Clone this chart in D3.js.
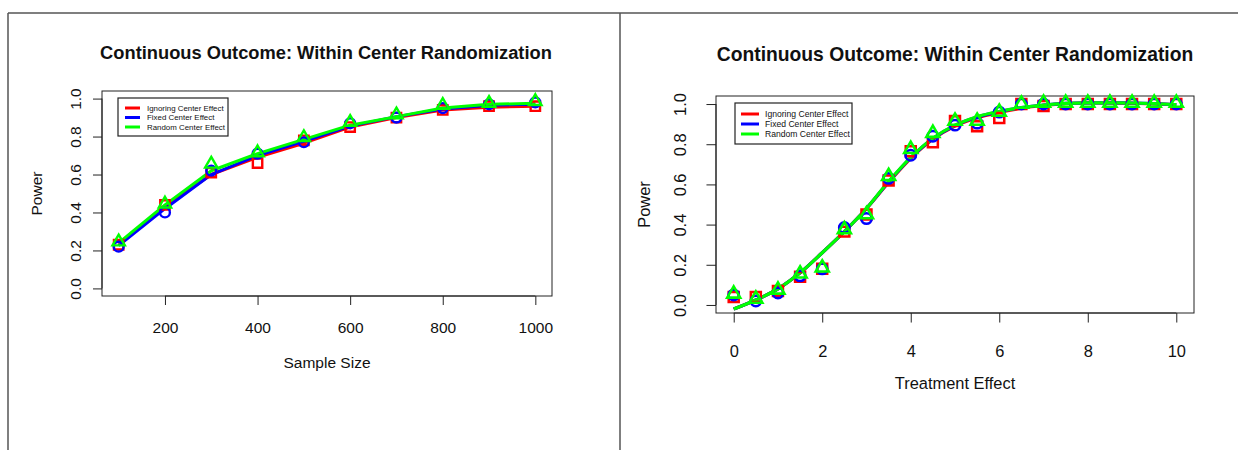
<!DOCTYPE html>
<meta charset='utf-8'>
<html>
  <style>
    body { margin: 0; background: #fff; }
    text { font-family: "Liberation Sans", Arial, sans-serif; fill: #111; }
    .title { font-weight: bold; }
    .box { fill: none; stroke: #222; stroke-width: 1px; }
    .frame { stroke: #555; stroke-width: 1.5px; }
  </style>
  <head>
    <script src="https://cdn.jsdelivr.net/npm/d3@7/dist/d3.min.js"></script>
  </head>
  <body>
    <div id="chart"></div>
    <script type="text/javascript">
      var seriesNames = ["Ignoring Center Effect", "Fixed Center Effect", "Random Center Effect"],
        seriesColors = ["#ff0000", "#0000ff", "#00ff00"],
        seriesShapes = ["square", "circle", "triangle"],
        powerTicks = [0, 0.2, 0.4, 0.6, 0.8, 1.0];

      // left panel: power against sample size
      var sampleSize = [100, 200, 300, 400, 500, 600, 700, 800, 900, 1000],
        sampleTicks = [200, 400, 600, 800, 1000],
        ssIgnorePts = [0.23, 0.44, 0.61, 0.66, 0.78, 0.85, 0.90, 0.94, 0.96, 0.96],
        ssFixedPts  = [0.22, 0.40, 0.62, 0.71, 0.77, 0.87, 0.90, 0.95, 0.97, 0.98],
        ssRandomPts = [0.24, 0.44, 0.65, 0.71, 0.79, 0.87, 0.91, 0.96, 0.97, 0.98],
        ssIgnoreFit = [0.235, 0.43, 0.60, 0.69, 0.765, 0.85, 0.90, 0.94, 0.955, 0.96],
        ssFixedFit  = [0.225, 0.42, 0.60, 0.70, 0.775, 0.855, 0.905, 0.945, 0.965, 0.97],
        ssRandomFit = [0.24, 0.44, 0.62, 0.71, 0.785, 0.86, 0.905, 0.95, 0.97, 0.975];

      // right panel: power against treatment effect
      var effect = [0, 0.5, 1, 1.5, 2, 2.5, 3, 3.5, 4, 4.5, 5, 5.5, 6, 6.5, 7, 7.5, 8, 8.5, 9, 9.5, 10],
        effectTicks = [0, 2, 4, 6, 8, 10],
        teIgnorePts = [0.04, 0.04, 0.07, 0.14, 0.18, 0.365, 0.45, 0.62, 0.765, 0.81, 0.915, 0.89, 0.93, 1.0, 0.99, 1.0, 1.0, 1.0, 1.0, 1.0, 1.0],
        teFixedPts  = [0.05, 0.02, 0.06, 0.145, 0.18, 0.385, 0.43, 0.63, 0.745, 0.84, 0.895, 0.905, 0.96, 1.0, 1.0, 1.0, 1.0, 1.0, 1.0, 1.0, 1.0],
        teRandomPts = [0.05, 0.025, 0.07, 0.15, 0.18, 0.37, 0.445, 0.635, 0.77, 0.85, 0.91, 0.91, 0.955, 0.995, 1.0, 1.0, 1.0, 1.0, 1.0, 1.0, 1.0],
        teIgnoreFit = [-0.02, 0.025, 0.08, 0.16, 0.26, 0.365, 0.48, 0.61, 0.73, 0.825, 0.89, 0.932, 0.958, 0.979, 0.993, 1.002, 1.005, 1.005, 1.004, 1.001, 0.996],
        teFixedFit  = [-0.02, 0.025, 0.08, 0.16, 0.26, 0.365, 0.48, 0.612, 0.733, 0.828, 0.893, 0.935, 0.962, 0.982, 0.995, 1.003, 1.006, 1.006, 1.005, 1.002, 0.997],
        teRandomFit = [-0.02, 0.025, 0.08, 0.16, 0.26, 0.365, 0.48, 0.615, 0.735, 0.83, 0.895, 0.937, 0.963, 0.982, 0.995, 1.003, 1.006, 1.006, 1.005, 1.002, 0.997];

      var svg = d3.select("#chart").append("svg")
        .attr("width", 1238)
        .attr("height", 450);

      // outer panel frames
      svg.append("line").attr("class", "frame").attr("x1", 8).attr("x2", 1238).attr("y1", 13).attr("y2", 13);
      svg.append("line").attr("class", "frame").attr("x1", 8).attr("x2", 8).attr("y1", 13).attr("y2", 450);
      svg.append("line").attr("class", "frame").attr("x1", 620).attr("x2", 620).attr("y1", 13).attr("y2", 450);

      function drawPanel(p) {
        var x = d3.scaleLinear().domain(p.xDomain).range([p.left, p.right]),
          y = d3.scaleLinear().domain([-0.04, 1.04]).range([p.bottom, p.top]),
          k = p.k;

        var g = svg.append("g");

        g.append("text")
          .attr("class", "title")
          .attr("x", p.titleX).attr("y", p.titleY)
          .attr("text-anchor", "middle")
          .style("font-size", p.titleFont + "px")
          .text("Continuous Outcome: Within Center Randomization");

        g.append("rect").attr("class", "box")
          .attr("x", p.left).attr("y", p.top)
          .attr("width", p.right - p.left).attr("height", p.bottom - p.top);

        var xAxis = g.append("g")
          .attr("transform", "translate(0," + p.bottom + ")")
          .call(d3.axisBottom(x).tickValues(p.xTicks).tickSize(9 * k).tickPadding(0).tickFormat(d3.format("d")));
        xAxis.select(".domain").attr("d", "M" + x(p.xTicks[0]) + ",0H" + x(p.xTicks[p.xTicks.length - 1])).attr("stroke", "#222");
        xAxis.selectAll(".tick line").attr("stroke", "#222");
        xAxis.selectAll("text")
          .attr("y", p.xLabelDy)
          .attr("dy", 0)
          .style("font-size", (15.5 * k) + "px")
          .style("font-family", "Liberation Sans, Arial, sans-serif")
          .attr("fill", "#111");

        var yAxis = g.append("g")
          .attr("transform", "translate(" + p.left + ",0)")
          .call(d3.axisLeft(y).tickValues(powerTicks).tickSize(9 * k).tickFormat(d3.format(".1f")));
        yAxis.select(".domain").attr("d", "M0," + y(0) + "V" + y(1)).attr("stroke", "#222");
        yAxis.selectAll(".tick line").attr("stroke", "#222");
        yAxis.selectAll("text")
          .attr("x", 0).attr("dy", 0)
          .attr("transform", "translate(" + (p.yLabelX - p.left) + ",0) rotate(-90)")
          .attr("text-anchor", "middle")
          .style("font-size", (15.5 * k) + "px")
          .style("font-family", "Liberation Sans, Arial, sans-serif")
          .attr("fill", "#111");

        g.append("text")
          .attr("transform", "translate(" + p.powerX + "," + ((p.top + p.bottom) / 2) + ") rotate(-90)")
          .attr("text-anchor", "middle")
          .style("font-size", (15.5 * k) + "px")
          .text("Power");

        g.append("text")
          .attr("x", (p.left + p.right) / 2)
          .attr("y", p.xTitleY)
          .attr("text-anchor", "middle")
          .style("font-size", (15.5 * k) + "px")
          .text(p.xTitle);

        var line = d3.line()
          .x(function(d) { return x(d[0]); })
          .y(function(d) { return y(d[1]); })
          .curve(p.curve);

        var plot = g.append("g");
        p.fits.forEach(function(fit, i) {
          plot.append("path")
            .datum(p.xs.map(function(v, j) { return [v, fit[j]]; }))
            .attr("d", line)
            .attr("fill", "none")
            .attr("stroke", seriesColors[i])
            .attr("stroke-width", 3 * k)
            .attr("stroke-linejoin", "round");
        });

        p.pts.forEach(function(vals, i) {
          var shape = seriesShapes[i], col = seriesColors[i];
          var sel = plot.selectAll(".pt" + i)
            .data(p.xs.map(function(v, j) { return [v, vals[j]]; }))
            .enter();
          var sym;
          if (shape == "square") {
            sym = d3.symbol().type(d3.symbolSquare).size(88 * k * k);
          } else if (shape == "circle") {
            sym = d3.symbol().type(d3.symbolCircle).size(76 * k * k);
          } else {
            sym = d3.symbol().type(d3.symbolTriangle).size(66 * k * k);
          }
          sel.append("path")
            .attr("class", "pt" + i)
            .attr("d", sym)
            .attr("transform", function(d) {
              return "translate(" + x(d[0]) + "," + (y(d[1]) + (shape == "triangle" ? -1 * k : 0)) + ")";
            })
            .attr("fill", "none")
            .attr("stroke", col)
            .attr("stroke-width", 2.4 * k);
        });

        // legend
        var lg = g.append("g").attr("transform", "translate(" + p.legX + "," + p.legY + ")");
        lg.append("rect")
          .attr("width", p.legW).attr("height", p.legH)
          .attr("fill", "#fff").attr("stroke", "#222").attr("stroke-width", 1.2);
        seriesNames.forEach(function(name, i) {
          var ry = p.legRow0 + i * p.legRowGap;
          lg.append("line")
            .attr("x1", p.legLine[0]).attr("x2", p.legLine[1])
            .attr("y1", ry).attr("y2", ry)
            .attr("stroke", seriesColors[i]).attr("stroke-width", 3);
          lg.append("text")
            .attr("x", p.legText).attr("y", ry)
            .attr("dy", "0.35em")
            .style("font-size", p.legFont + "px")
            .attr("fill", "#333")
            .text(name);
        });
      }

      drawPanel({
        k: 1,
        left: 102, right: 552, top: 91, bottom: 296,
        xDomain: [64, 1036], xTicks: sampleTicks, xs: sampleSize,
        pts: [ssIgnorePts, ssFixedPts, ssRandomPts],
        fits: [ssIgnoreFit, ssFixedFit, ssRandomFit],
        curve: d3.curveLinear,
        titleX: 326, titleY: 59, titleFont: 18.3,
        xLabelDy: 37, yLabelX: 81, powerX: 42,
        xTitle: "Sample Size", xTitleY: 368,
        legX: 118, legY: 98, legW: 110, legH: 38,
        legRow0: 10, legRowGap: 9.5, legLine: [7, 22], legText: 29, legFont: 7.9
      });

      drawPanel({
        k: 1.06,
        left: 716, right: 1194, top: 96, bottom: 313,
        xDomain: [-0.4, 10.4], xTicks: effectTicks, xs: effect,
        pts: [teIgnorePts, teFixedPts, teRandomPts],
        fits: [teIgnoreFit, teFixedFit, teRandomFit],
        curve: d3.curveMonotoneX,
        titleX: 955, titleY: 61, titleFont: 19.3,
        xLabelDy: 44, yLabelX: 686, powerX: 650,
        xTitle: "Treatment Effect", xTitleY: 389,
        legX: 735, legY: 103, legW: 117, legH: 41,
        legRow0: 11, legRowGap: 10, legLine: [6, 24], legText: 30, legFont: 8.6
      });
    </script>
  </body>
</html>
